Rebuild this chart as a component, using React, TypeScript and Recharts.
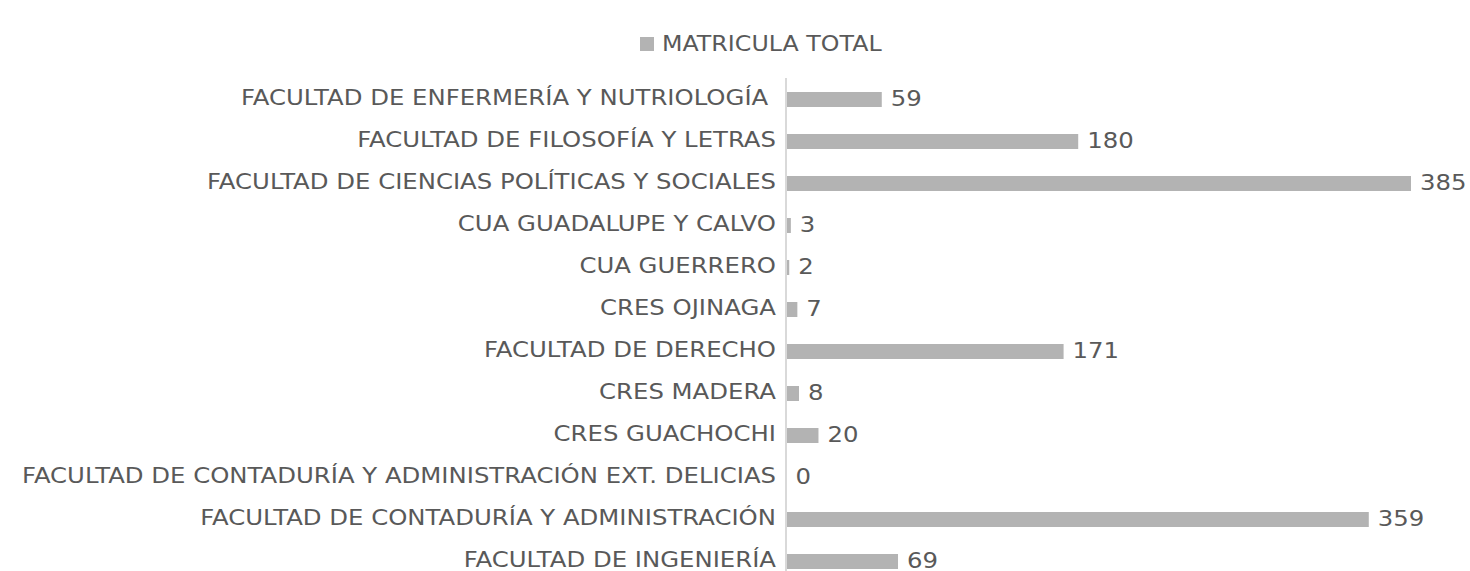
import { BarChart, Bar, XAxis, YAxis, Legend, LabelList } from 'recharts';

const categories = [
  'FACULTAD DE ENFERMERÍA Y NUTRIOLOGÍA ',
  'FACULTAD DE FILOSOFÍA Y LETRAS',
  'FACULTAD DE CIENCIAS POLÍTICAS Y SOCIALES',
  'CUA GUADALUPE Y CALVO',
  'CUA GUERRERO',
  'CRES OJINAGA',
  'FACULTAD DE DERECHO',
  'CRES MADERA',
  'CRES GUACHOCHI',
  'FACULTAD DE CONTADURÍA Y ADMINISTRACIÓN EXT. DELICIAS',
  'FACULTAD DE CONTADURÍA Y ADMINISTRACIÓN',
  'FACULTAD DE INGENIERÍA',
];

const matricula = [59, 180, 385, 3, 2, 7, 171, 8, 20, 0, 359, 69];

const seriesName = 'MATRICULA TOTAL';

const data = categories.map((name, i) => ({ name, value: matricula[i] }));

const textColor = '#595959';
const barColor = '#b3b3b3';
const fontFamily = '"DejaVu Sans", Verdana, sans-serif';
const fontSize = 21;
const stretch = 1.16; // the original text is a bit wider than DejaVu

const CategoryTick = ({ x, y, payload }: any) => (
  <g transform={`translate(${x},${y})`}>
    <text
      transform={`scale(${stretch},1)`}
      textAnchor="end"
      dy="0.3em"
      fill={textColor}
      fontSize={fontSize}
      fontFamily={fontFamily}
      style={{ whiteSpace: 'pre' }}
    >
      {payload.value}
    </text>
  </g>
);

const ValueLabel = ({ x, y, width, height, value }: any) => (
  <g transform={`translate(${x + width + 9},${y + height / 2})`}>
    <text
      transform={`scale(${stretch},1)`}
      textAnchor="start"
      dy="0.3em"
      fill={textColor}
      fontSize={fontSize}
      fontFamily={fontFamily}
    >
      {value}
    </text>
  </g>
);

const LegendBox = () => (
  <div
    style={{
      display: 'flex',
      alignItems: 'center',
      fontFamily,
      fontSize,
      color: textColor,
      whiteSpace: 'nowrap',
    }}
  >
    <span style={{ display: 'inline-block', width: 14, height: 14, background: barColor, marginRight: 8 }} />
    <span style={{ display: 'inline-block', transform: `scaleX(1.13)`, transformOrigin: 'left center' }}>
      {seriesName}
    </span>
  </div>
);

export default function App() {
  return (
    <div style={{ width: 1470, height: 571, overflow: 'hidden' }}>
      <style>{'body { margin: 0; }'}</style>
      <BarChart
        width={1470}
        height={590}
        data={data}
        layout="vertical"
        margin={{ top: 78, right: 59, left: 16, bottom: 8 }}
        barCategoryGap={0}
      >
        <XAxis type="number" domain={[0, 385]} hide />
        <YAxis
          type="category"
          dataKey="name"
          width={770}
          interval={0}
          tickLine={false}
          tickSize={0}
          tickMargin={10}
          axisLine={{ stroke: '#d9d9d9', strokeWidth: 2 }}
          tick={<CategoryTick />}
        />
        <Legend
          verticalAlign="top"
          content={() => <LegendBox />}
          wrapperStyle={{ top: 32, left: 640, width: 'auto', height: 0 }}
        />
        <Bar
          dataKey="value"
          name={seriesName}
          fill={barColor}
          barSize={15}
          minPointSize={(v: number) => (v === 0 ? 0.5 : 0)}
          isAnimationActive={false}
        >
          <LabelList dataKey="value" content={<ValueLabel />} />
        </Bar>
      </BarChart>
    </div>
  );
}
